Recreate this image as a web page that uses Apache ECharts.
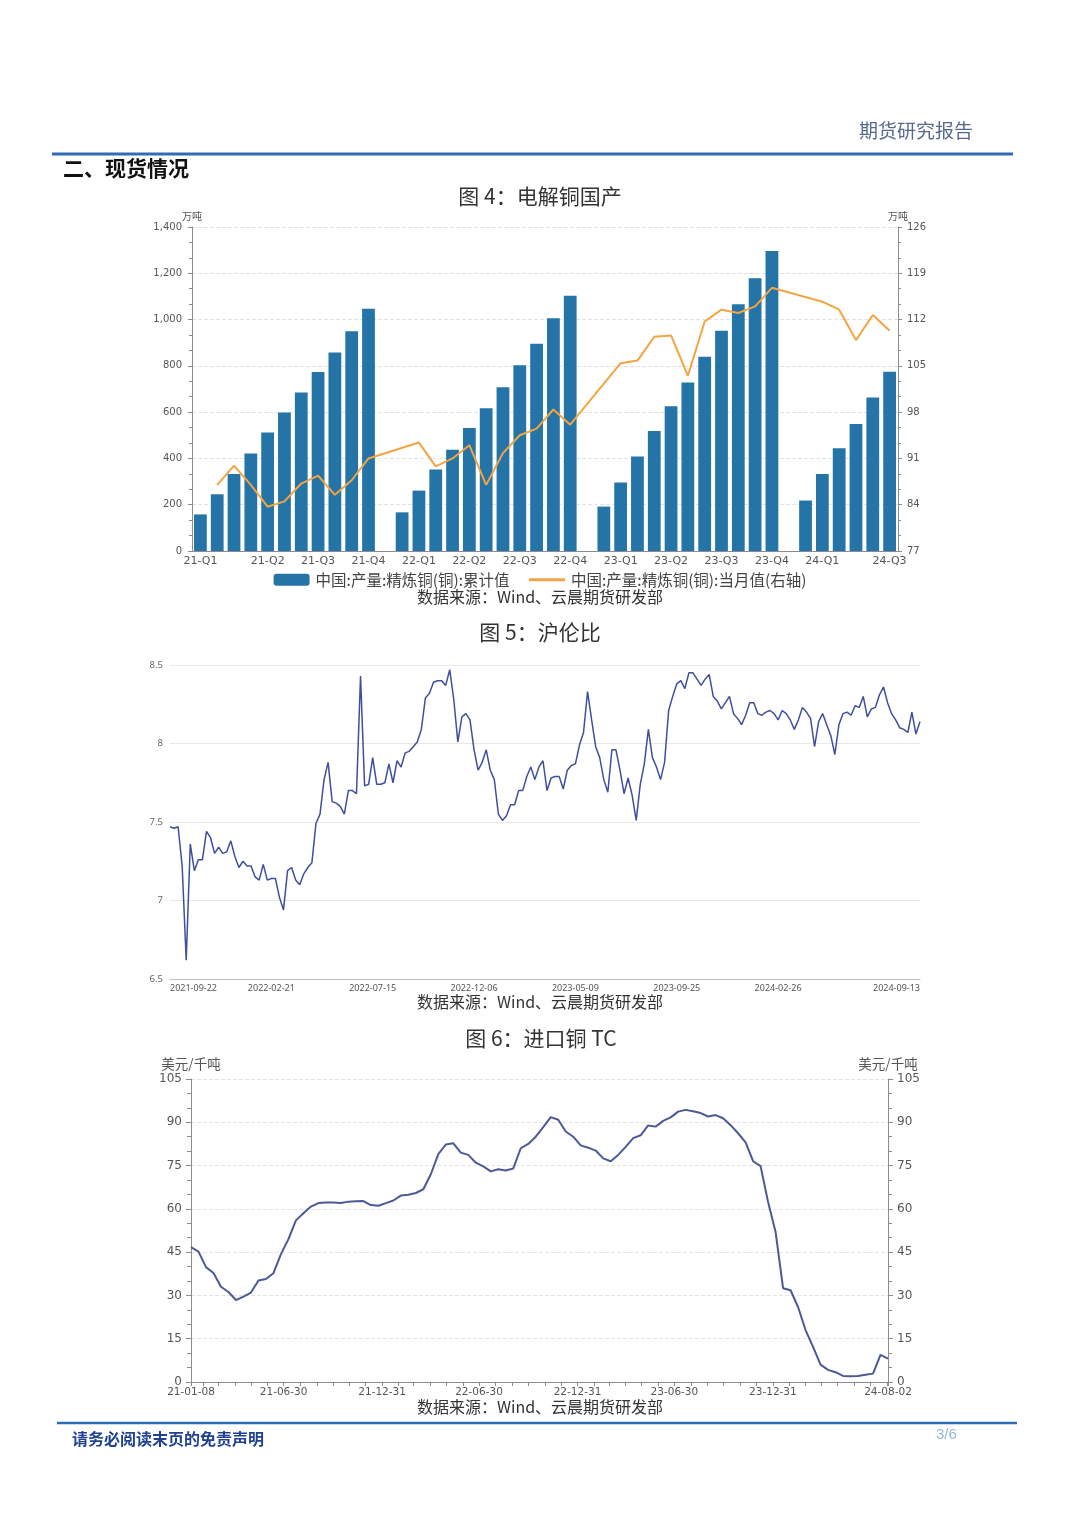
<!DOCTYPE html>
<html><head><meta charset="utf-8">
<script src="https://cdn.jsdelivr.net/npm/echarts@6/dist/echarts.min.js"></script>
<style>html,body{margin:0;padding:0;background:#fff}#c{width:1080px;height:1526px}</style>
</head><body><div id="c"></div><script>
// ---------- Figure 4: domestic refined copper output ----------
const months = ['2021-02','2021-03','2021-04','2021-05','2021-06','2021-07','2021-08','2021-09','2021-10','2021-11','2021-12',
 '2022-01','2022-02','2022-03','2022-04','2022-05','2022-06','2022-07','2022-08','2022-09','2022-10','2022-11','2022-12',
 '2023-01','2023-02','2023-03','2023-04','2023-05','2023-06','2023-07','2023-08','2023-09','2023-10','2023-11','2023-12',
 '2024-01','2024-02','2024-03','2024-04','2024-05','2024-06','2024-07'];
const quarterLabels = {'2021-02':'21-Q1','2021-06':'21-Q2','2021-09':'21-Q3','2021-12':'21-Q4','2022-03':'22-Q1','2022-06':'22-Q2',
 '2022-09':'22-Q3','2022-12':'22-Q4','2023-03':'23-Q1','2023-06':'23-Q2','2023-09':'23-Q3','2023-12':'23-Q4','2024-03':'24-Q1','2024-07':'24-Q3'};
const cumulative = [158,245,333,421,512,598,685,773,858,949,1047, null,
 167,261,352,437,531,617,708,803,895,1006,1103, null,
 192,296,408,518,626,728,839,952,1066,1179,1296, null,
 218,333,444,549,663,774];
const monthly = [null,87.0,89.9,87.0,83.7,84.5,87.2,88.4,85.5,87.7,91.0, null,
 null,93.4,89.8,91.0,93.0,87.0,91.8,94.5,95.5,98.4,96.1, null,
 null,105.4,105.8,109.4,109.6,103.5,111.7,113.5,113.0,114.0,116.8, null,
 null,114.7,113.5,108.9,112.7,110.3];
const cumName = '中国:产量:精炼铜(铜):累计值';
const monName = '中国:产量:精炼铜(铜):当月值(右轴)';

// ---------- Figure 5: SHFE / LME ratio ----------
const ratio = [7.47,7.46,7.47,7.22,6.62,7.36,7.19,7.26,7.26,7.44,
 7.40,7.30,7.34,7.30,7.31,7.38,7.28,7.21,7.25,7.22,
 7.22,7.15,7.13,7.23,7.13,7.14,7.14,7.02,6.94,7.19,
 7.21,7.13,7.10,7.17,7.21,7.24,7.49,7.55,7.77,7.88,
 7.63,7.62,7.60,7.55,7.70,7.70,7.68,8.43,7.73,7.74,
 7.91,7.74,7.74,7.75,7.87,7.75,7.89,7.85,7.94,7.95,
 7.98,8.01,8.09,8.29,8.32,8.39,8.40,8.40,8.37,8.47,
 8.28,8.01,8.17,8.19,8.15,7.96,7.83,7.88,7.96,7.83,
 7.77,7.55,7.51,7.54,7.61,7.61,7.70,7.70,7.79,7.85,
 7.77,7.85,7.89,7.70,7.78,7.79,7.79,7.71,7.83,7.86,
 7.87,7.99,8.07,8.33,8.15,7.98,7.91,7.77,7.69,7.96,
 7.96,7.83,7.68,7.78,7.67,7.51,7.74,7.87,8.09,7.91,
 7.85,7.77,7.88,8.21,8.30,8.38,8.40,8.35,8.45,8.45,
 8.41,8.37,8.41,8.44,8.30,8.27,8.22,8.26,8.30,8.19,
 8.16,8.12,8.18,8.26,8.26,8.19,8.18,8.20,8.21,8.19,
 8.15,8.21,8.19,8.15,8.09,8.15,8.23,8.20,8.16,7.98,
 8.14,8.19,8.12,8.05,7.93,8.12,8.19,8.20,8.18,8.24,
 8.23,8.30,8.17,8.22,8.23,8.31,8.36,8.26,8.19,8.15,
 8.10,8.09,8.07,8.20,8.06,8.14];
const ratioTickIndex = [0,25,50,75,100,125,150,185];
const ratioTickLabels = ['2021-09-22','2022-02-21','2022-07-15','2022-12-06','2023-05-09','2023-09-25','2024-02-26','2024-09-13'];

// ---------- Figure 6: imported copper TC ----------
const tcDates = ['2021-01-08','2021-01-22','2021-02-05','2021-02-19','2021-03-05','2021-03-19','2021-04-02','2021-04-16','2021-04-30','2021-05-14',
 '2021-05-28','2021-06-11','2021-06-25','2021-07-09','2021-07-23','2021-08-06','2021-08-20','2021-09-03','2021-09-17','2021-10-01',
 '2021-10-15','2021-10-29','2021-11-12','2021-11-26','2021-12-10','2021-12-24','2022-01-07','2022-01-21','2022-02-04','2022-02-18',
 '2022-03-04','2022-03-18','2022-04-01','2022-04-15','2022-04-29','2022-05-13','2022-05-27','2022-06-10','2022-06-24','2022-07-08',
 '2022-07-22','2022-08-05','2022-08-19','2022-09-02','2022-09-16','2022-09-30','2022-10-14','2022-10-28','2022-11-11','2022-11-25',
 '2022-12-09','2022-12-23','2023-01-06','2023-01-20','2023-02-03','2023-02-17','2023-03-03','2023-03-17','2023-03-31','2023-04-14',
 '2023-04-28','2023-05-12','2023-05-26','2023-06-09','2023-06-23','2023-07-07','2023-07-21','2023-08-04','2023-08-18','2023-09-01',
 '2023-09-15','2023-09-29','2023-10-13','2023-10-27','2023-11-10','2023-11-24','2023-12-08','2023-12-22','2024-01-05','2024-01-19',
 '2024-02-02','2024-02-16','2024-03-01','2024-03-15','2024-03-29','2024-04-12','2024-04-26','2024-05-10','2024-05-24','2024-06-07',
 '2024-06-21','2024-07-05','2024-07-19','2024-08-02'];
const tc = [46.7,45.2,39.8,37.8,33.0,31.2,28.4,29.6,31.0,35.2,
 35.7,37.7,44.3,49.5,56.0,58.5,60.8,62.0,62.2,62.2,
 62.0,62.5,62.6,62.7,61.3,61.1,62.0,62.9,64.6,64.9,
 65.5,66.8,72.0,79.0,82.3,82.7,79.5,78.7,76.0,74.7,
 73.0,73.7,73.3,74.0,81.0,82.5,85.0,88.3,91.8,90.9,
 86.8,85.0,82.0,81.2,80.2,77.5,76.5,78.7,81.5,84.5,
 85.5,88.9,88.5,90.5,91.7,93.7,94.3,93.8,93.2,92.0,
 92.5,91.4,89.0,86.2,83.0,76.5,74.8,62.4,52.0,32.5,
 31.8,26.0,18.0,12.2,6.0,4.2,3.4,2.1,2.0,2.1,
 2.5,2.9,9.4,8.1];
const tcTickDates = ['2021-01-08','2021-06-30','2021-12-31','2022-06-30','2022-12-31','2023-06-30','2023-12-31','2024-08-02'];
const tcTickLabels = ['21-01-08','21-06-30','21-12-31','22-06-30','22-12-31','23-06-30','23-12-31','24-08-02'];

// ---------- build ----------
const CJK = '"Noto Sans CJK SC","Noto Sans",sans-serif';
const AX = '"DejaVu Sans",sans-serif';
const ratioLabelMap = {};
ratioTickIndex.forEach((k, j) => { ratioLabelMap[k] = ratioTickLabels[j]; });
const ratioCats = ratio.map((_, i) => ratioLabelMap[i] !== undefined ? ratioLabelMap[i] : '');
const pd = s => echarts.number.parseDate(s).getTime();
const tcStart = pd(tcDates[0]), tcEnd = pd(tcDates[tcDates.length - 1]);
const tcLabelVals = tcTickDates.map(pd);
const tcLabelMap = {};
tcLabelVals.forEach((v, j) => { tcLabelMap[v] = tcTickLabels[j]; });
const tcTickVals = tcLabelVals.slice();
for (let y = 2021; y <= 2024; y++) for (let m = 0; m < 12; m++) {
  const t = new Date(y, m + 1, 0).getTime();
  if (t > tcStart && t < tcEnd && tcTickVals.indexOf(t) < 0) tcTickVals.push(t);
}
tcTickVals.sort((a, b) => a - b);
const tcSeries = tcDates.map((d, i) => [pd(d), tc[i]]);
const qInterval = (i, v) => quarterLabels[v] !== undefined;

const axisGray = '#8c8c8c';
const labelGray = '#555';
const BAR = '#2474a7', ORANGE = '#f3a443';

function txt(x, y, text, size, opt) {
  opt = opt || {};
  return {type: 'text', x: x, y: y, silent: true, style: {text: text, fontSize: size, fontFamily: opt.family || CJK,
    fontWeight: opt.weight || 'normal', fill: opt.color || '#333', textAlign: opt.align || 'left', textVerticalAlign: 'middle'}};
}

const chart = echarts.init(document.getElementById('c'), null, {width: 1080, height: 1526});
chart.setOption({
  animation: false,
  backgroundColor: '#ffffff',
  grid: [
    {left: 192, top: 227, width: 706, height: 324, containLabel: false, outerBoundsMode: 'none'},
    {left: 170, top: 665, width: 750, height: 314, containLabel: false, outerBoundsMode: 'none'},
    {left: 191, top: 1079, width: 697, height: 303, containLabel: false, outerBoundsMode: 'none'}
  ],
  legend: {
    top: 572, left: 'center', itemWidth: 36, itemHeight: 12, itemGap: 18, padding: 0,
    textStyle: {fontSize: 15.5, color: '#444', fontFamily: CJK, padding: [0, 0, 0, 1]},
    data: [
      {name: cumName, icon: 'roundRect'},
      {name: monName, itemStyle: {opacity: 0, color: 'rgba(0,0,0,0)', borderWidth: 0}, lineStyle: {width: 3, color: ORANGE}}
    ]
  },
  xAxis: [
    {gridIndex: 0, type: 'category', data: months, boundaryGap: true,
     axisLine: {lineStyle: {color: axisGray}},
     axisTick: {alignWithLabel: true, interval: qInterval, length: 4, lineStyle: {color: axisGray}},
     axisLabel: {interval: qInterval, formatter: v => quarterLabels[v] || '', color: labelGray, fontSize: 11, fontFamily: AX, margin: 5},
     splitLine: {show: false}},
    {gridIndex: 1, type: 'category', data: ratioCats, boundaryGap: false,
     axisLine: {lineStyle: {color: '#c0c0c0'}}, axisTick: {show: false},
     axisLabel: {interval: (i) => ratioLabelMap[i] !== undefined, formatter: (v, i) => ratioLabelMap[i] || '',
       alignMinLabel: 'left', alignMaxLabel: 'right', color: labelGray, fontSize: 9, fontFamily: '"Noto Sans",sans-serif', margin: 5},
     splitLine: {show: false}},
    {gridIndex: 2, type: 'value', min: tcStart, max: tcEnd, scale: true,
     axisLine: {lineStyle: {color: axisGray}},
     axisTick: {show: true, customValues: tcTickVals, length: 4, lineStyle: {color: axisGray}},
     axisLabel: {customValues: tcLabelVals, formatter: v => tcLabelMap[v] || '', color: labelGray, fontSize: 10.5, fontFamily: AX, margin: 5},
     minorTick: {show: false}, splitLine: {show: false}}
  ],
  yAxis: [
    {gridIndex: 0, type: 'value', min: 0, max: 1400, interval: 200, name: '万吨', nameGap: 6,
     nameTextStyle: {fontSize: 10, color: labelGray, fontFamily: CJK},
     axisLine: {show: true, lineStyle: {color: axisGray}}, axisTick: {show: true, length: 4, lineStyle: {color: axisGray}},
     minorTick: {show: true, splitNumber: 3, length: 3, lineStyle: {color: axisGray}},
     axisLabel: {color: labelGray, fontSize: 10, fontFamily: AX, margin: 10},
     splitLine: {lineStyle: {type: 'dashed', color: '#e3e3e3'}}},
    {gridIndex: 0, type: 'value', position: 'right', min: 77, max: 126, interval: 7, name: '万吨', nameGap: 6,
     nameTextStyle: {fontSize: 10, color: labelGray, fontFamily: CJK},
     axisLine: {show: true, lineStyle: {color: axisGray}}, axisTick: {show: true, length: 4, lineStyle: {color: axisGray}},
     minorTick: {show: true, splitNumber: 3, length: 3, lineStyle: {color: axisGray}},
     axisLabel: {color: labelGray, fontSize: 10, fontFamily: AX, margin: 9},
     splitLine: {show: false}},
    {gridIndex: 1, type: 'value', min: 6.5, max: 8.5, interval: 0.5,
     axisLine: {show: false}, axisTick: {show: false},
     axisLabel: {color: '#666', fontSize: 9.5, fontFamily: '"Noto Sans",sans-serif', margin: 7},
     splitLine: {lineStyle: {color: '#e8e8e8'}}},
    {gridIndex: 2, type: 'value', min: 0, max: 105, interval: 15, name: '美元/千吨', nameGap: 8,
     nameTextStyle: {fontSize: 13.5, color: labelGray, fontFamily: CJK},
     axisLine: {show: true, lineStyle: {color: axisGray}}, axisTick: {show: true, length: 5, lineStyle: {color: axisGray}},
     minorTick: {show: true, splitNumber: 3, length: 4, lineStyle: {color: axisGray}},
     axisLabel: {color: labelGray, fontSize: 12, fontFamily: AX, margin: 9},
     splitLine: {lineStyle: {type: 'dashed', color: '#e3e3e3'}}},
    {gridIndex: 2, type: 'value', position: 'right', min: 0, max: 105, interval: 15, name: '美元/千吨', nameGap: 8,
     nameTextStyle: {fontSize: 13.5, color: labelGray, fontFamily: CJK},
     axisLine: {show: true, lineStyle: {color: axisGray}}, axisTick: {show: true, length: 5, lineStyle: {color: axisGray}},
     minorTick: {show: true, splitNumber: 3, length: 4, lineStyle: {color: axisGray}},
     axisLabel: {color: labelGray, fontSize: 12, fontFamily: AX, margin: 9},
     splitLine: {show: false}}
  ],
  series: [
    {type: 'bar', name: cumName, xAxisIndex: 0, yAxisIndex: 0, data: cumulative, barCategoryGap: '24%',
     itemStyle: {color: BAR}},
    {type: 'line', name: monName, xAxisIndex: 0, yAxisIndex: 1, data: monthly, connectNulls: true, symbol: 'none',
     lineStyle: {color: ORANGE, width: 2}, itemStyle: {color: ORANGE}},
    {type: 'line', name: '沪伦比', xAxisIndex: 1, yAxisIndex: 2, data: ratio, symbol: 'none',
     lineStyle: {color: '#3f4f9e', width: 1.5}},
    {type: 'line', name: '进口铜TC', xAxisIndex: 2, yAxisIndex: 3, data: tcSeries, symbol: 'none',
     lineStyle: {color: '#4b5a97', width: 2}}
  ],
  graphic: [
    txt(973, 131, '期货研究报告', 19, {color: '#56698f', align: 'right'}),
    {type: 'line', silent: true, shape: {x1: 52, y1: 154, x2: 1013, y2: 154}, style: {stroke: '#2f6db3', lineWidth: 3}},
    txt(63, 168, '二、现货情况', 21, {weight: 'bold', color: '#111'}),
    txt(540, 196, '图 4：电解铜国产', 21, {align: 'center', color: '#333'}),
    txt(540, 597, '数据来源：Wind、云晨期货研发部', 16, {align: 'center', color: '#333'}),
    txt(540, 632, '图 5：沪伦比', 21, {align: 'center', color: '#333'}),
    txt(540, 1002, '数据来源：Wind、云晨期货研发部', 16, {align: 'center', color: '#333'}),
    txt(541, 1038, '图 6：进口铜 TC', 21, {align: 'center', color: '#333'}),
    txt(540, 1407, '数据来源：Wind、云晨期货研发部', 16, {align: 'center', color: '#333'}),
    {type: 'line', silent: true, shape: {x1: 57, y1: 1423, x2: 1017, y2: 1423}, style: {stroke: '#2f6db3', lineWidth: 2.5}},
    txt(72, 1439, '请务必阅读末页的免责声明', 16, {weight: 'bold', color: '#1f428f'}),
    txt(936, 1435, '3/6', 15, {color: '#9ab4da', family: '"Liberation Sans",sans-serif'})
  ]
});
</script></body></html>
